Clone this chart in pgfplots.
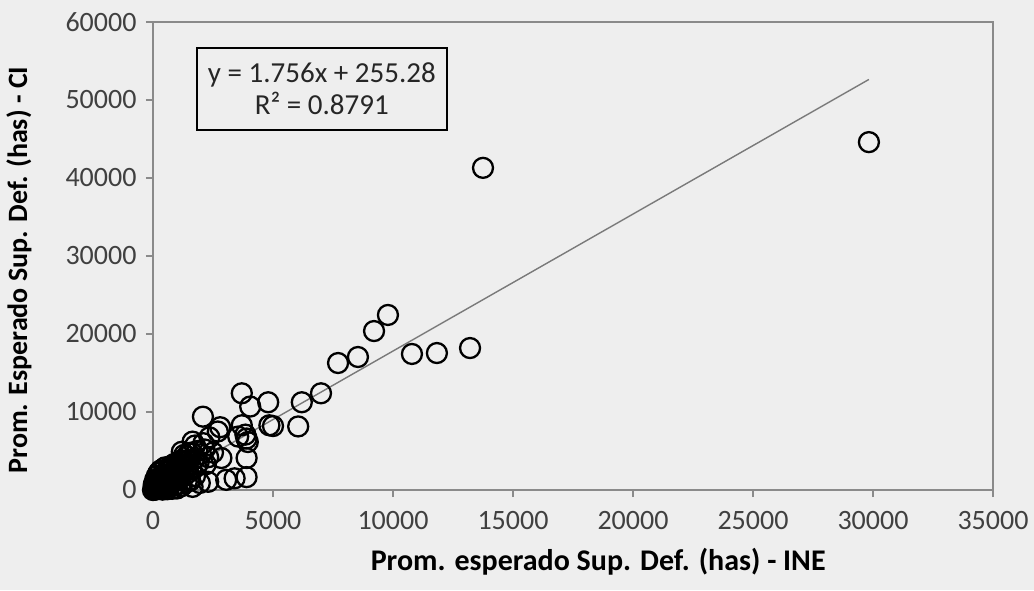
\documentclass[border=0pt]{standalone}
\usepackage{fontspec}
\setmainfont{Carlito}
\usepackage{pgfplots}
\pgfplotsset{compat=1.18}
\definecolor{bg}{HTML}{EEEEEE}
\definecolor{axisgray}{HTML}{8A8A8A}
\definecolor{ticktext}{HTML}{404040}
\definecolor{trend}{HTML}{7A7A7A}
\begin{document}
\begin{tikzpicture}
\fill[bg] (-153pt,-100pt) rectangle (881pt,490pt);
\useasboundingbox (-153pt,-100pt) rectangle (881pt,490pt);
\begin{axis}[
  scale only axis, width=840pt, height=468pt,
  xmin=0, xmax=35000, ymin=0, ymax=60000,
  xtick={0,5000,...,35000}, ytick={0,10000,...,60000},
  scaled ticks=false,
  /pgf/number format/assume math mode=true,
  /pgf/number format/set thousands separator={},
  tick label style={font=\fontsize{28}{28}\selectfont, text=ticktext},
  xticklabel style={yshift=-11pt},
  yticklabel style={xshift=-6pt},
  axis line style={axisgray, line width=1.5pt},
  tick style={axisgray, line width=1.3pt},
  major tick length=7pt,
  tick align=outside,
  xtick pos=bottom, ytick pos=left,
  xlabel={\textbf{Prom. esperado Sup. Def. (has) - INE}},
  ylabel={\textbf{Prom. Esperado Sup. Def. (has) - CI}},
  xlabel style={font=\fontsize{30}{30}\selectfont, at={(axis description cs:0.53,0)}, anchor=north, yshift=-55pt},
  ylabel style={font=\fontsize{28}{28}\selectfont, at={(axis description cs:0,0.47)}, anchor=south, yshift=118pt},
  clip=false,
]
\addplot[only marks, mark=o, mark size=10pt, mark options={line width=2.3pt, black}] coordinates {
(29830,44600) (13750,41300) (9790,22440) (9210,20380) (8540,17050) (7710,16280)
(10790,17440) (11830,17560) (13210,18200) (7000,12400) (6200,11250) (6050,8150)
(4800,11250) (3700,12400) (4050,10700) (5000,8200) (4850,8300) (2080,9400)
(3700,8300) (2800,8050) (2700,7500) (3550,6850) (3900,6600) (2350,6750)
(3850,7100) (2100,6000) (3950,6150) (1650,6200) (1750,5700) (1200,4900)
(2850,4100) (3900,4100) (2300,4200) (1900,3500) (3900,1650) (3400,1500)
(3050,1300) (2300,1050) (1950,900) (1650,400)
(0,0) (20,50) (40,30) (60,150) (80,100) (100,200) (120,80) (150,300) (180,250)
(200,400) (220,150) (250,500) (280,350) (300,600) (320,200) (350,700) (380,450)
(400,900) (420,300) (450,1000) (480,600) (500,1200) (520,800) (550,400) (580,1400)
(600,1000) (620,700) (650,1600) (680,1200) (700,500) (720,1800) (750,1400) (780,900)
(800,2000) (830,1500) (850,1100) (880,2300) (900,1700) (920,600) (950,2500) (980,1900)
(1000,1300) (1030,2800) (1050,2100) (1080,1500) (1100,3000) (1130,2400) (1150,800)
(1200,3300) (1250,2600) (1300,1800) (1350,3600) (1400,2900) (1450,2200) (1500,3800)
(1550,1200) (1600,2700) (500,2900) (700,3000) (300,1500) (150,1000) (100,600)
(50,400) (250,1100) (1200,3800) (1400,4300) (1000,3500) (800,3100)
(30,700) (90,1300) (160,1800) (230,2200) (310,2500) (400,2000) (460,1700)
(560,2300) (640,2600) (760,2700) (860,3300) (960,3000) (1100,3700) (1300,4500)
(1500,4700) (1700,3900) (1800,3000) (1750,1800) (1400,1000) (1200,500)
(1000,200) (800,150) (600,100) (400,50) (1600,4800) (1850,5000) (2000,4600)
(2150,5200) (2200,3300) (2500,4800)
};
\addplot[trend, line width=1.4pt] coordinates {(0,255.28) (29830,52637)};
\node[draw=black, line width=1.8pt, fill=bg, align=center, minimum width=250pt, minimum height=82pt,
  font=\fontsize{29}{32}\selectfont, text=black!85]
  at (axis description cs:0.201,0.857) {y = 1.756x + 255.28\\R² = 0.8791};
\end{axis}
\end{tikzpicture}
\end{document}
